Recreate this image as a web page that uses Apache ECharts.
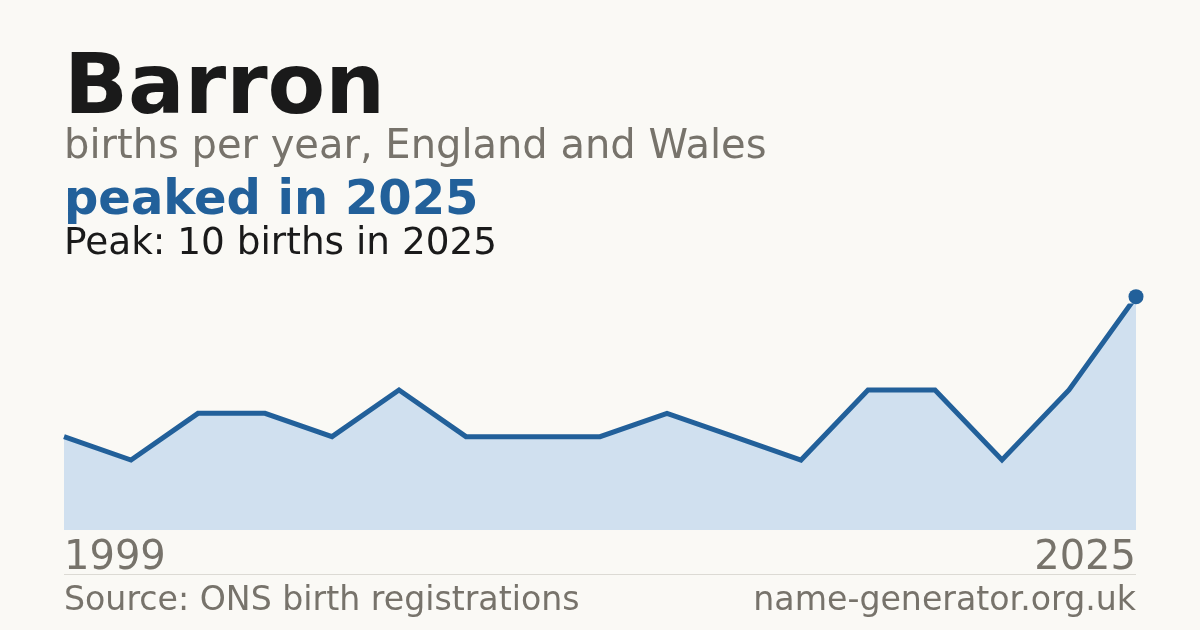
<!DOCTYPE html>
<html>
<head>
<meta charset="utf-8">
<script src="https://cdn.jsdelivr.net/npm/echarts@6/dist/echarts.min.js"></script>
<style>
html,body{margin:0;padding:0;background:#faf9f5;}
#c{width:1200px;height:630px;}
</style>
</head>
<body>
<div id="c"></div>
<script>
// Data (years of registrations shown; only first and last are labelled)
const years = ['1999','2001','2003','2005','2006','2008','2009','2010','2011','2013','2014','2016','2018','2019','2021','2023','2025'];
const births = [4, 3, 5, 5, 4, 6, 4, 4, 4, 5, 4, 3, 6, 6, 3, 6, 10];
const peakLabel = '2025';
const peakValue = 10;

const FONT = 'DejaVu Sans';
const chart = echarts.init(document.getElementById('c'), null, {renderer: 'canvas'});
const lastIdx = years.length - 1;
const peakData = years.map((y, i) => (y === peakLabel ? peakValue : '-'));

chart.setOption({
  backgroundColor: '#faf9f5',
  animation: false,
  grid: {left: 64, right: 64, top: 306, bottom: 100},
  xAxis: {
    type: 'category',
    data: years,
    boundaryGap: false,
    axisLine: {show: false},
    axisTick: {show: false},
    splitLine: {show: false},
    axisLabel: {
      interval: (i) => i === 0 || i === lastIdx,
      margin: 9,
      color: '#77736b',
      fontFamily: FONT,
      fontSize: 40,
      alignMinLabel: 'left',
      alignMaxLabel: 'right'
    }
  },
  yAxis: {
    type: 'value',
    min: 0,
    max: 9.6,
    show: false
  },
  series: [
    {
      type: 'line',
      data: births,
      clip: true,
      symbol: 'none',
      lineStyle: {color: '#22609a', width: 5, join: 'miter'},
      areaStyle: {color: '#d0e0ef', opacity: 1},
      z: 2
    },
    {
      type: 'scatter',
      data: peakData,
      clip: false,
      symbol: 'circle',
      symbolSize: 15,
      itemStyle: {color: '#22609a', opacity: 1},
      z: 3
    }
  ],
  graphic: [
    {type: 'text', left: 64, top: 49, style: {text: 'Barron', font: 'bold 84px "DejaVu Sans"', fill: '#1a1a1a'}},
    {type: 'text', left: 64, top: 128, style: {text: 'births per year, England and Wales', font: '40px "DejaVu Sans"', fill: '#77736b'}},
    {type: 'text', left: 64, top: 178, style: {text: 'peaked in 2025', font: 'bold 48px "DejaVu Sans"', fill: '#22609a'}},
    {type: 'text', left: 64, top: 226, style: {text: 'Peak: 10 births in 2025', font: '37.4px "DejaVu Sans"', fill: '#1a1a1a'}},
    {type: 'rect', shape: {x: 64, y: 574, width: 1072, height: 1}, style: {fill: '#dcdad4'}},
    {type: 'text', left: 64, top: 585, style: {text: 'Source: ONS birth registrations', font: '33.2px "DejaVu Sans"', fill: '#77736b'}},
    {type: 'text', right: 64, top: 585, style: {text: 'name-generator.org.uk', font: '33.2px "DejaVu Sans"', fill: '#77736b'}}
  ]
});
</script>
</body>
</html>
